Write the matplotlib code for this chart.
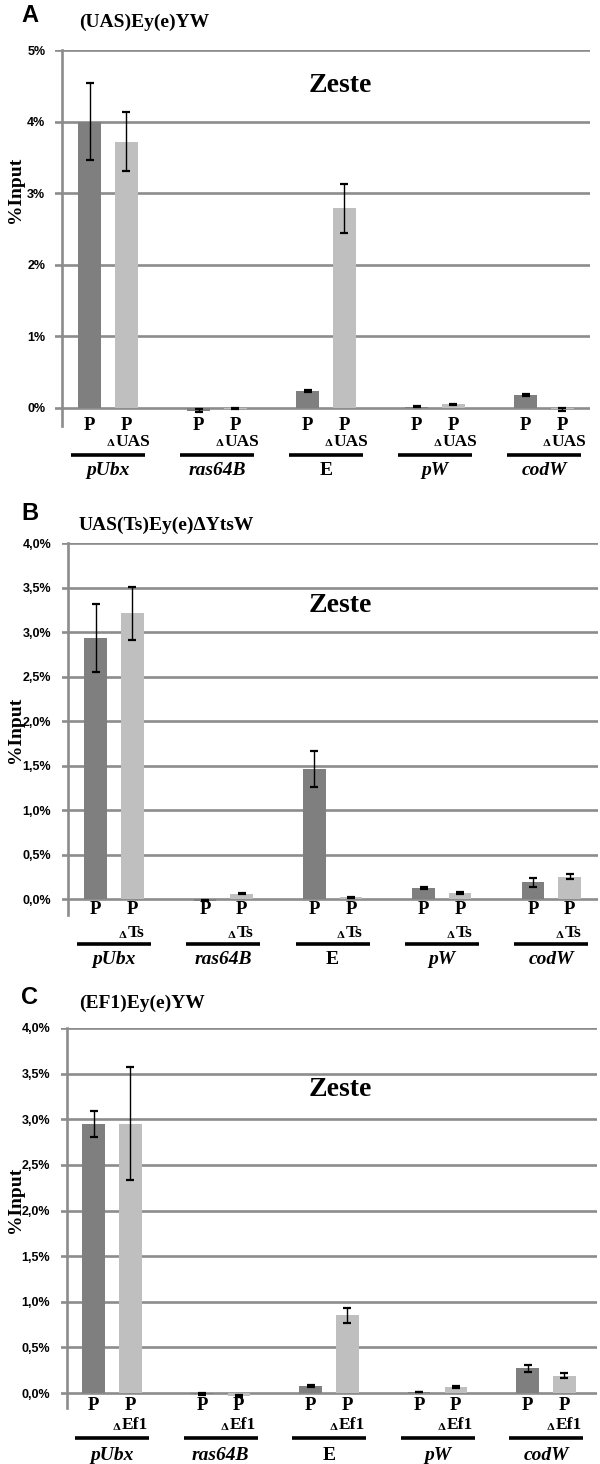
import numpy as np
import matplotlib.pyplot as plt
import matplotlib.transforms as mtransforms

genes = ['pUbx', 'ras64B', 'E', 'pW', 'codW']
gene_italic = [True, True, False, True, True]

# panel A: (UAS)Ey(e)YW
a_p = [4.00, -0.04, 0.24, 0.02, 0.18]
a_p_err = [0.54, 0.02, 0.01, 0.005, 0.01]
a_d = [3.72, -0.01, 2.79, 0.05, -0.02]
a_d_err = [0.41, 0.01, 0.34, 0.01, 0.02]

# panel B: UAS(Ts)Ey(e)dYtsW
b_p = [2.93, -0.02, 1.46, 0.12, 0.19]
b_p_err = [0.38, 0.005, 0.20, 0.01, 0.05]
b_d = [3.21, 0.06, 0.02, 0.07, 0.25]
b_d_err = [0.30, 0.005, 0.005, 0.01, 0.03]

# panel C: (EF1)Ey(e)YW
c_p = [2.95, -0.01, 0.08, 0.01, 0.27]
c_p_err = [0.14, 0.01, 0.01, 0.0, 0.04]
c_d = [2.95, -0.03, 0.85, 0.07, 0.19]
c_d_err = [0.62, 0.01, 0.08, 0.01, 0.03]

W, H = 600, 1464
fig = plt.figure(figsize=(6, 14.64), dpi=100)

DARK = '#7f7f7f'
LIGHT = '#bfbfbf'
GRID = '#8c8c8c'
SERIF = 'Liberation Serif'
SANS = 'Liberation Sans'


def fy(ypx):
    return 1 - ypx / H


def panel(p, pe, d, de, letter, title, suffix, ticks, ticklabels,
          ytop_px, y0_px, ymin, xl, xr, spine_px, c0, cw,
          ypx_letter, ypx_title, zeste_y, ylab_y, rows, suf_off):
    top = ticks[-1]
    scale = (y0_px - ytop_px) / top
    ybot_px = y0_px - ymin * scale
    ax = fig.add_axes([xl / W, fy(ybot_px), (xr - xl) / W, (ybot_px - ytop_px) / H])
    x = np.arange(len(genes))
    ax.set_xlim((xl - c0) / cw, (xr - c0) / cw)
    ax.set_ylim(ymin, top)
    off = 18.3 / cw
    bw = 22.5 / cw
    ax.bar(x - off, p, bw, color=DARK, zorder=3)
    ax.bar(x + off, d, bw, color=LIGHT, zorder=3)
    ax.errorbar(x - off, p, yerr=pe, fmt='none', ecolor='black', elinewidth=1.0,
                capsize=3, capthick=1.6, zorder=4)
    ax.errorbar(x + off, d, yerr=de, fmt='none', ecolor='black', elinewidth=1.0,
                capsize=3, capthick=1.6, zorder=4)
    for t in ticks:
        ax.axhline(t, color=GRID, lw=1.9, zorder=1)
    for s in ['top', 'right', 'bottom']:
        ax.spines[s].set_visible(False)
    ax.spines['left'].set_color(GRID)
    ax.spines['left'].set_linewidth(1.9)
    ax.spines['left'].set_position(('data', (spine_px - c0) / cw))
    ax.set_xticks([])
    ax.set_yticks(ticks)
    ax.set_yticklabels(ticklabels, fontfamily=SANS, fontweight='bold', fontsize=9)
    ax.tick_params(axis='y', length=0, pad=12)

    tr = mtransforms.blended_transform_factory(ax.transData, fig.transFigure)
    yp, ys, yl, yg = rows
    for i, g in enumerate(genes):
        ax.text(i - off, fy(yp), 'P', transform=tr, ha='center', va='center',
                fontfamily=SERIF, fontweight='bold', fontsize=13.5)
        ax.text(i + off, fy(yp), 'P', transform=tr, ha='center', va='center',
                fontfamily=SERIF, fontweight='bold', fontsize=13.5)
        xs = i + off + suf_off / cw
        ax.text(xs, fy(ys), suffix, transform=tr, ha='left', va='center',
                fontfamily=SERIF, fontweight='bold', fontsize=12.5)
        ax.text(xs - 1 / cw, fy(ys + 2), 'Δ', transform=tr, ha='right', va='center',
                fontfamily='DejaVu Serif', fontweight='bold', fontsize=7.5)
        ax.plot([i - 37 / cw, i + 37 / cw], [fy(yl), fy(yl)], transform=tr,
                color='black', lw=2.6, clip_on=False, solid_capstyle='butt')
        ax.text(i, fy(yg), g, transform=tr, ha='center', va='center',
                fontfamily=SERIF, fontweight='bold', fontsize=14,
                fontstyle='italic' if gene_italic[i] else 'normal')

    fig.text(30 / W, fy(ypx_letter), letter, ha='center', va='center',
             fontfamily=SANS, fontweight='bold', fontsize=17)
    fig.text(79 / W, fy(ypx_title), title, ha='left', va='center',
             fontfamily=SERIF, fontweight='bold', fontsize=14)
    fig.text(340 / W, fy(zeste_y), 'Zeste', ha='center', va='center',
             fontfamily=SERIF, fontweight='bold', fontsize=20)
    fig.text(15 / W, fy(ylab_y), '%Input', ha='center', va='center', rotation=90,
             fontfamily=SERIF, fontweight='bold', fontsize=14)
    return ax


panel(a_p, a_p_err, a_d, a_d_err, 'A', '(UAS)Ey(e)YW', 'UAS',
      [0, 1, 2, 3, 4, 5], ['0%', '1%', '2%', '3%', '4%', '5%'],
      50, 408, -0.25, 55, 590, 62, 108, 109,
      15, 22, 85, 190, (426, 442, 455, 470), -11)

panel(b_p, b_p_err, b_d, b_d_err, 'B', 'UAS(Ts)Ey(e)ΔYtsW', 'Ts',
      [0, 0.5, 1, 1.5, 2, 2.5, 3, 3.5, 4],
      ['0,0%', '0,5%', '1,0%', '1,5%', '2,0%', '2,5%', '3,0%', '3,5%', '4,0%'],
      543, 899, -0.18, 62, 598, 68, 114, 109.3,
      513, 525, 606, 730, (910, 933, 944, 960), -5)

panel(c_p, c_p_err, c_d, c_d_err, 'C', '(EF1)Ey(e)YW', 'Ef1',
      [0, 0.5, 1, 1.5, 2, 2.5, 3, 3.5, 4],
      ['0,0%', '0,5%', '1,0%', '1,5%', '2,0%', '2,5%', '3,0%', '3,5%', '4,0%'],
      1028, 1393, -0.165, 61, 597, 67, 112, 108.5,
      997, 1003, 1090, 1200, (1406, 1425, 1438, 1455), -9)

fig.savefig('out.png', dpi=100)
